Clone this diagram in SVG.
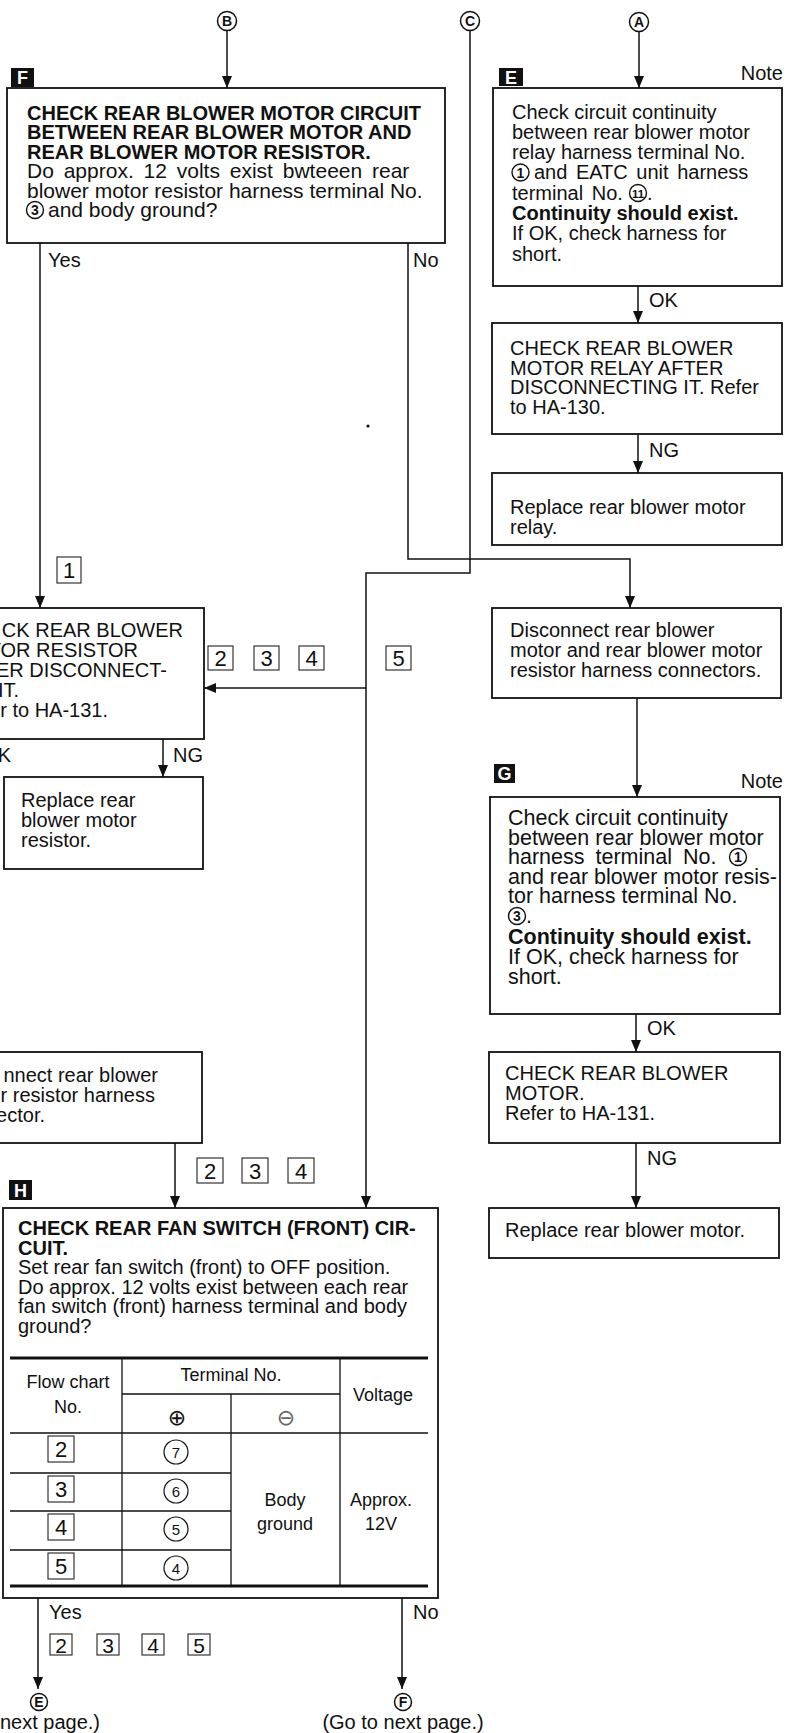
<svg xmlns="http://www.w3.org/2000/svg" width="791" height="1733" viewBox="0 0 791 1733">
<defs>
<style>
text{font-family:"Liberation Sans",Arial,Helvetica,sans-serif;fill:#111;font-size:20px}
.b{font-weight:bold}
.box{fill:#fff;stroke:#111;stroke-width:1.8}
.ln{fill:none;stroke:#111;stroke-width:1.5}
.tk{fill:none;stroke:#111;stroke-width:3.2}
.tl{fill:none;stroke:#111;stroke-width:1.3}
.lb{fill:#111}
.lt{fill:#fff;font-weight:bold;font-size:18px;text-anchor:middle}
.cc{fill:#fff;stroke:#111;stroke-width:1.5}
.ct{font-weight:bold;font-size:14px;text-anchor:middle}
.ic{fill:none;stroke:#111;stroke-width:1.4}
.it{font-weight:bold;font-size:14px;text-anchor:middle}
.nb{fill:#fff;stroke:#222;stroke-width:1.1}
.nt{font-size:22px;text-anchor:middle}
.mid{text-anchor:middle}
.end{text-anchor:end}
.sm{font-size:18px}
.tc{fill:#fff;stroke:#111;stroke-width:1.2}
.td{font-size:15px;text-anchor:middle}
.g{font-size:21.5px}
</style>
<marker id="ah" viewBox="0 0 12 10" refX="12" refY="5" markerWidth="12" markerHeight="10" markerUnits="userSpaceOnUse" orient="auto"><path d="M0,0 L12,5 L0,10 z" fill="#111"/></marker>
</defs>

<g id="connectors">
<path class="ln" d="M227,31 V88" marker-end="url(#ah)"/>
<path class="ln" d="M639,32 V88" marker-end="url(#ah)"/>
<path class="ln" d="M638,286 V323" marker-end="url(#ah)"/>
<path class="ln" d="M638,434 V473" marker-end="url(#ah)"/>
<path class="ln" d="M408,243 V559 H630 V608" marker-end="url(#ah)"/>
<path class="ln" d="M470,31 V573 H366 V1208" marker-end="url(#ah)"/>
<path class="ln" d="M366,688 H204" marker-end="url(#ah)"/>
<path class="ln" d="M40,243 V608" marker-end="url(#ah)"/>
<path class="ln" d="M163,739 V777" marker-end="url(#ah)"/>
<path class="ln" d="M637,698 V797" marker-end="url(#ah)"/>
<path class="ln" d="M636,1014 V1052" marker-end="url(#ah)"/>
<path class="ln" d="M636,1143 V1208" marker-end="url(#ah)"/>
<path class="ln" d="M175,1143 V1208" marker-end="url(#ah)"/>
<path class="ln" d="M38,1598 V1689" marker-end="url(#ah)"/>
<path class="ln" d="M402,1598 V1689" marker-end="url(#ah)"/>
<text x="48" y="267">Yes</text>
<text x="413" y="267">No</text>
<text x="649" y="307">OK</text>
<text x="649" y="457">NG</text>
<text class="end" x="11" y="762">K</text>
<text x="173" y="762">NG</text>
<text x="647" y="1035">OK</text>
<text x="647" y="1165">NG</text>
<text x="49" y="1619">Yes</text>
<text x="413" y="1619">No</text>
<rect class="nb" x="57" y="557" width="24" height="26"/><text class="nt" x="69" y="578">1</text>
<rect class="nb" x="208" y="646" width="25" height="24"/><text class="nt" x="220.5" y="666">2</text>
<rect class="nb" x="254" y="646" width="25" height="24"/><text class="nt" x="266.5" y="666">3</text>
<rect class="nb" x="299" y="646" width="25" height="24"/><text class="nt" x="311.5" y="666">4</text>
<rect class="nb" x="386" y="646" width="25" height="24"/><text class="nt" x="398.5" y="666">5</text>
<rect class="nb" x="197" y="1158" width="26" height="25"/><text class="nt" x="210" y="1179">2</text>
<rect class="nb" x="242" y="1158" width="26" height="25"/><text class="nt" x="255" y="1179">3</text>
<rect class="nb" x="288" y="1158" width="26" height="25"/><text class="nt" x="301" y="1179">4</text>
<rect class="nb" x="50" y="1634" width="22" height="21"/><text class="nt" x="61" y="1652.5" style="font-size:21px">2</text>
<rect class="nb" x="97" y="1634" width="22" height="21"/><text class="nt" x="108" y="1652.5" style="font-size:21px">3</text>
<rect class="nb" x="142" y="1634" width="22" height="21"/><text class="nt" x="153" y="1652.5" style="font-size:21px">4</text>
<rect class="nb" x="188" y="1634" width="22" height="21"/><text class="nt" x="199" y="1652.5" style="font-size:21px">5</text>
<circle cx="368" cy="426" r="1.6" fill="#111"/>
</g>

<g id="term-B"><circle class="cc" cx="227" cy="21" r="9.5"/><text class="ct" x="227" y="26">B</text></g>
<g id="term-C"><circle class="cc" cx="470" cy="21" r="9.5"/><text class="ct" x="470" y="26">C</text></g>
<g id="term-A"><circle class="cc" cx="639" cy="22" r="9.5"/><text class="ct" x="639" y="27">A</text></g>
<g id="term-E"><circle class="cc" cx="39" cy="1702" r="8.5"/><text class="ct" x="39" y="1707">E</text><text class="end" x="100" y="1729">next page.)</text></g>
<g id="term-F"><circle class="cc" cx="403" cy="1702" r="8.5"/><text class="ct" x="403" y="1707">F</text><text class="mid" x="403" y="1729">(Go to next page.)</text></g>

<g id="node-F">
<rect class="lb" x="11" y="68" width="23" height="19"/><text class="lt" x="22.5" y="84">F</text>
<rect class="box" x="7" y="88" width="438" height="155"/>
<text class="b" x="27" y="120">CHECK REAR BLOWER MOTOR CIRCUIT</text>
<text class="b" x="27" y="139.4">BETWEEN REAR BLOWER MOTOR AND</text>
<text class="b" x="27" y="158.8">REAR BLOWER MOTOR RESISTOR.</text>
<text x="27" y="178.2" style="font-size:21px;word-spacing:4px">Do approx. 12 volts exist bwteeen rear</text>
<text x="27" y="197.6" style="font-size:21px">blower motor resistor harness terminal No.</text>
<circle class="ic" cx="35" cy="210" r="8.5"/><text class="it" x="35" y="215">3</text>
<text x="48" y="217" style="font-size:21px">and body ground?</text>
</g>

<g id="node-E">
<rect class="lb" x="499" y="68" width="24" height="18"/><text class="lt" x="511" y="83.5">E</text>
<text class="end" x="783" y="80">Note</text>
<rect class="box" x="493" y="88" width="289" height="198"/>
<text x="512" y="118.5">Check circuit continuity</text>
<text x="512" y="138.8">between rear blower motor</text>
<text x="512" y="159.1">relay harness terminal No.</text>
<circle class="ic" cx="520.5" cy="172.5" r="8.5"/><text class="it" x="520.5" y="177.5">1</text>
<text x="534" y="179.4" style="word-spacing:3px">and EATC unit harness</text>
<text x="512" y="199.7" style="word-spacing:3px">terminal No.</text>
<circle class="ic" cx="638" cy="193" r="8.5"/><text class="it" x="638" y="197.5" style="font-size:11.5px">11</text>
<text x="647" y="199.7">.</text>
<text class="b" x="512" y="220">Continuity should exist.</text>
<text x="512" y="240.3">If OK, check harness for</text>
<text x="512" y="260.6">short.</text>
</g>

<g id="node-relay-check">
<rect class="box" x="492" y="323" width="290" height="111"/>
<text x="510" y="355">CHECK REAR BLOWER</text>
<text x="510" y="374.5">MOTOR RELAY AFTER</text>
<text x="510" y="394">DISCONNECTING IT. Refer</text>
<text x="510" y="413.5">to HA-130.</text>
</g>

<g id="node-relay-replace">
<rect class="box" x="492" y="473" width="290" height="72"/>
<text x="510" y="514">Replace rear blower motor</text>
<text x="510" y="534">relay.</text>
</g>

<g id="node-disconnect-motor">
<rect class="box" x="492" y="608" width="289" height="90"/>
<text x="510" y="637">Disconnect rear blower</text>
<text x="510" y="657">motor and rear blower motor</text>
<text x="510" y="677">resistor harness connectors.</text>
</g>

<g id="node-resistor-check">
<rect class="box" x="-5" y="608" width="209" height="131"/>
<text class="end" x="183" y="637">CK REAR BLOWER</text>
<text class="end" x="138" y="657">TOR RESISTOR</text>
<text class="end" x="167" y="677">ER DISCONNECT-</text>
<text class="end" x="19" y="697">IT.</text>
<text class="end" x="108" y="717">r to HA-131.</text>
</g>

<g id="node-resistor-replace">
<rect class="box" x="4" y="777" width="199" height="92"/>
<text x="21" y="807">Replace rear</text>
<text x="21" y="827">blower motor</text>
<text x="21" y="847">resistor.</text>
</g>

<g id="node-G">
<rect class="lb" x="494" y="764" width="21" height="19"/><text class="lt" x="504.5" y="780">G</text>
<text class="end" x="783" y="788">Note</text>
<rect class="box" x="490" y="797" width="290" height="217"/>
<text class="g" x="508" y="825">Check circuit continuity</text>
<text class="g" x="508" y="844.5">between rear blower motor</text>
<text class="g" x="508" y="864" style="word-spacing:5px">harness terminal No.</text>
<circle class="ic" cx="738" cy="857" r="8.5"/><text class="it" x="738" y="862">1</text>
<text class="g" x="508" y="883.5">and rear blower motor resis-</text>
<text class="g" x="508" y="903">tor harness terminal No.</text>
<circle class="ic" cx="517" cy="916" r="8.5"/><text class="it" x="517" y="921">3</text>
<text class="g" x="526" y="923">.</text>
<text class="g b" x="508" y="944">Continuity should exist.</text>
<text class="g" x="508" y="964">If OK, check harness for</text>
<text class="g" x="508" y="984">short.</text>
</g>

<g id="node-motor-check">
<rect class="box" x="489" y="1052" width="291" height="91"/>
<text x="505" y="1080">CHECK REAR BLOWER</text>
<text x="505" y="1100">MOTOR.</text>
<text x="505" y="1120">Refer to HA-131.</text>
</g>

<g id="node-motor-replace">
<rect class="box" x="489" y="1208" width="290" height="50"/>
<text x="505" y="1237">Replace rear blower motor.</text>
</g>

<g id="node-disconnect-resistor">
<rect class="box" x="-5" y="1052" width="207" height="91"/>
<text class="end" x="158" y="1082">nnect rear blower</text>
<text class="end" x="155" y="1102">r resistor harness</text>
<text class="end" x="45" y="1122">ector.</text>
</g>

<g id="node-H">
<rect class="lb" x="9" y="1180" width="23" height="20"/><text class="lt" x="20.5" y="1196.5">H</text>
<rect class="box" x="3" y="1208" width="435" height="390"/>
<text class="b" x="18" y="1235">CHECK REAR FAN SWITCH (FRONT) CIR-</text>
<text class="b" x="18" y="1254.5">CUIT.</text>
<text x="18" y="1274">Set rear fan switch (front) to OFF position.</text>
<text x="18" y="1293.5">Do approx. 12 volts exist between each rear</text>
<text x="18" y="1313">fan switch (front) harness terminal and body</text>
<text x="18" y="1332.5">ground?</text>
<g id="table">
<path class="tk" d="M10,1358 H428 M10,1586 H428"/>
<path class="tl" d="M122,1358 V1586 M340,1358 V1586 M231,1394 V1586 M122,1394 H340 M10,1433 H428 M10,1473 H231 M10,1511 H231 M10,1550 H231"/>
<text class="sm mid" x="68" y="1388">Flow chart</text>
<text class="sm mid" x="68" y="1413">No.</text>
<text class="sm mid" x="231" y="1381">Terminal No.</text>
<text class="sm mid" x="383" y="1401">Voltage</text>
<text class="mid" x="177" y="1425" style="font-family:'DejaVu Sans',sans-serif;font-size:22px">⊕</text>
<text class="mid" x="286" y="1425" style="font-family:'DejaVu Sans',sans-serif;font-size:22px;fill:#666">⊖</text>
<rect class="nb" x="48" y="1436" width="26" height="26"/><text class="nt" x="61" y="1457">2</text>
<rect class="nb" x="48" y="1476" width="26" height="26"/><text class="nt" x="61" y="1497">3</text>
<rect class="nb" x="48" y="1514" width="26" height="26"/><text class="nt" x="61" y="1535">4</text>
<rect class="nb" x="48" y="1553" width="26" height="26"/><text class="nt" x="61" y="1574">5</text>
<circle class="tc" cx="176" cy="1452" r="12"/><text class="td" x="176" y="1457.5">7</text>
<circle class="tc" cx="176" cy="1491" r="12"/><text class="td" x="176" y="1496.5">6</text>
<circle class="tc" cx="176" cy="1529" r="12"/><text class="td" x="176" y="1534.5">5</text>
<circle class="tc" cx="176" cy="1568" r="12"/><text class="td" x="176" y="1573.5">4</text>
<text class="sm mid" x="285" y="1506">Body</text>
<text class="sm mid" x="285" y="1530">ground</text>
<text class="sm mid" x="381" y="1506">Approx.</text>
<text class="sm mid" x="381" y="1530">12V</text>
</g>
</g>
</svg>
